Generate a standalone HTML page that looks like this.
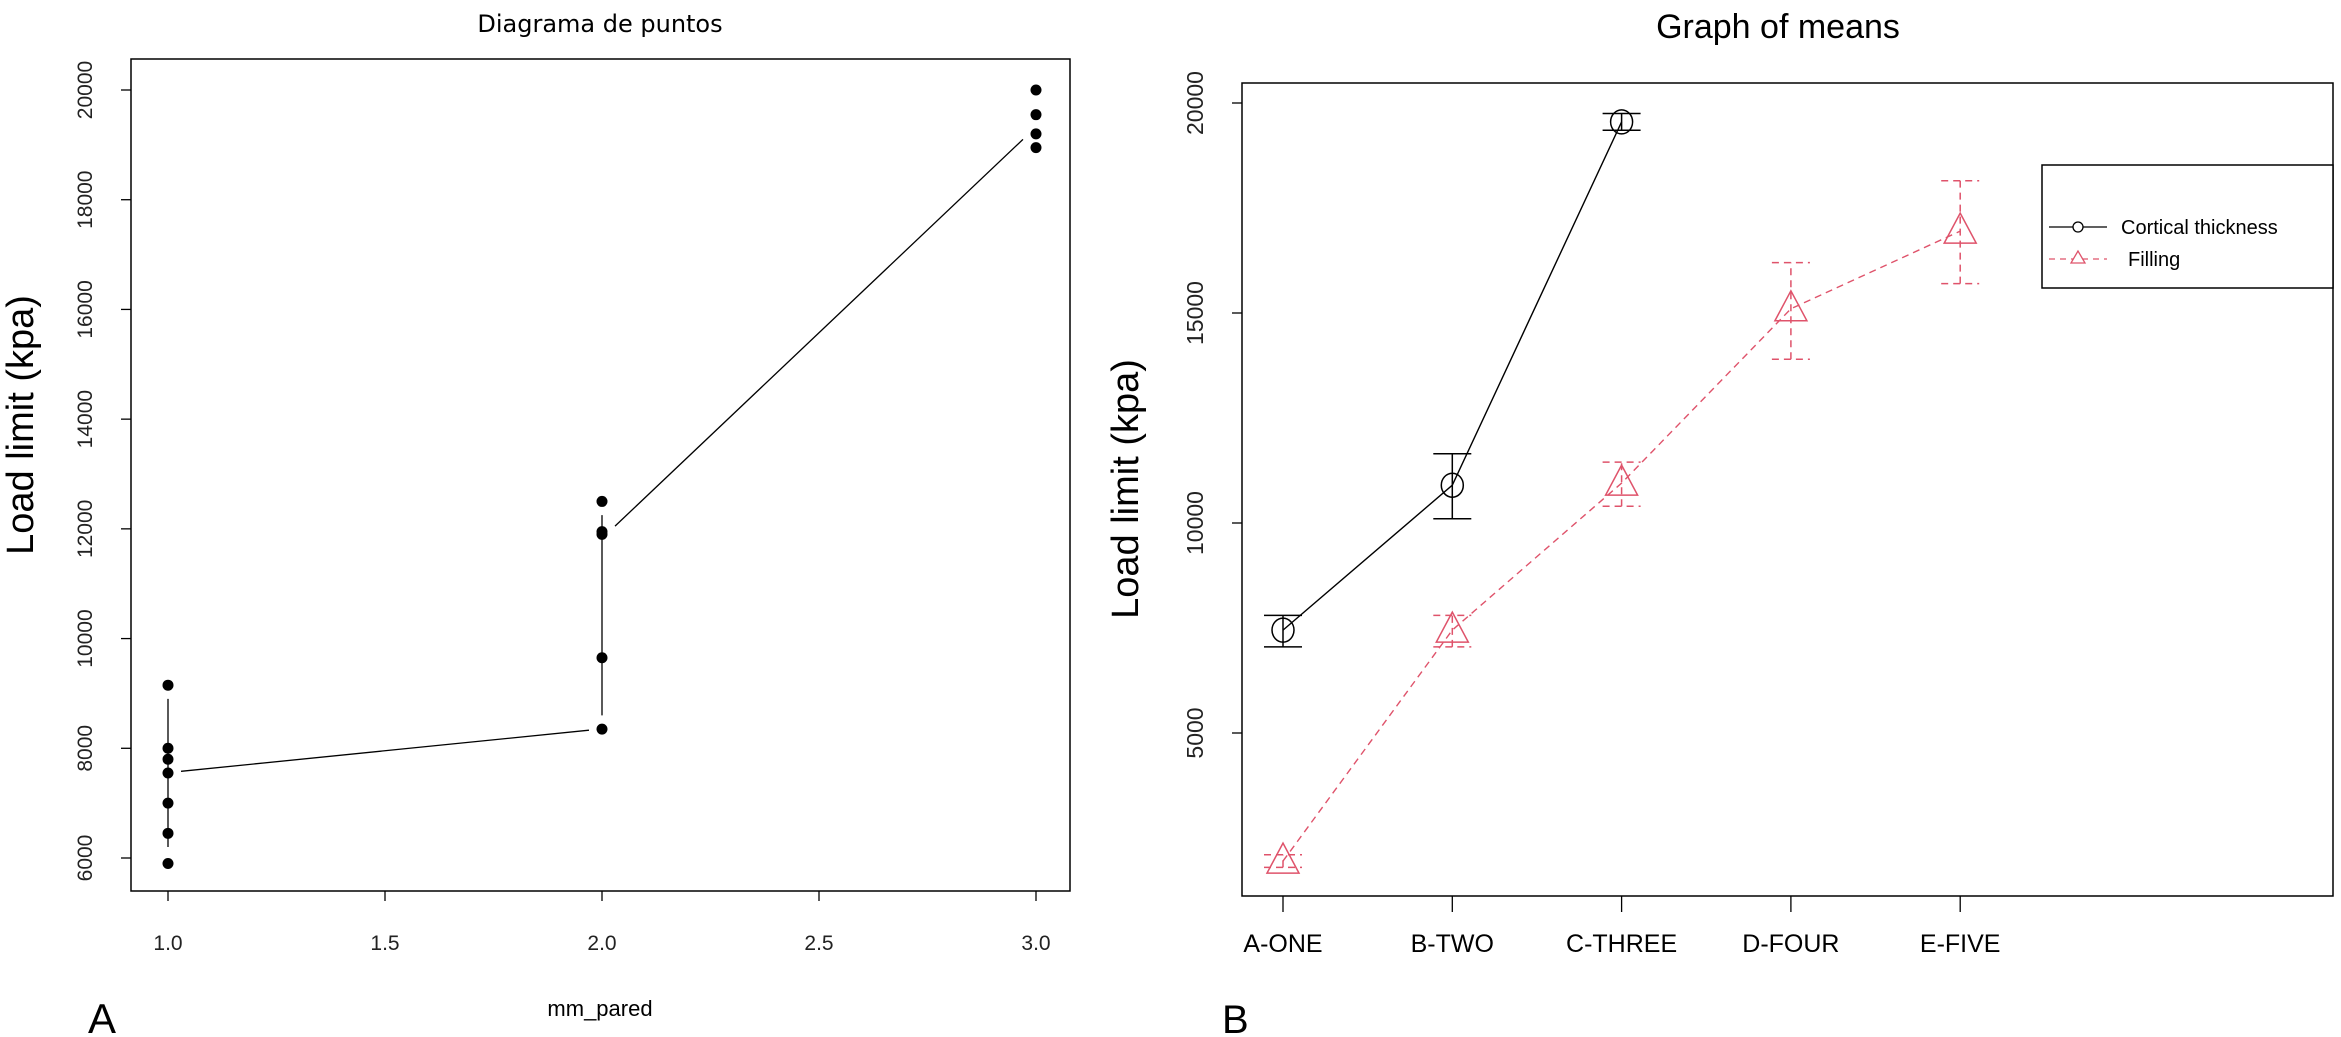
<!DOCTYPE html>
<html><head><meta charset="utf-8"><style>
html,body{margin:0;padding:0;background:#fff;}
svg{display:block;font-family:"Liberation Sans",sans-serif;}
</style></head><body>
<svg id="svg" width="2341" height="1037" viewBox="0 0 2341 1037" xmlns="http://www.w3.org/2000/svg">
<g id="pa">
<text x="600" y="32" font-size="24" text-anchor="middle" font-family="DejaVu Sans, sans-serif">Diagrama de puntos</text>
<rect x="131" y="59" width="939" height="832" fill="none" stroke="#000" stroke-width="1.5"/>
<text transform="translate(33,425) rotate(-90)" font-size="38" text-anchor="middle">Load limit (kpa)</text>
<text x="600" y="1016" font-size="22" text-anchor="middle">mm_pared</text>
<text x="88" y="1033" font-size="42">A</text>
</g>
<g id="pb">
<text x="1778" y="38" font-size="34" text-anchor="middle">Graph of means</text>
<rect x="1242" y="83" width="1091" height="813" fill="none" stroke="#000" stroke-width="1.5"/>
<text transform="translate(1138,489) rotate(-90)" font-size="38" text-anchor="middle">Load limit (kpa)</text>
<text x="1222" y="1033" font-size="40">B</text>
<g>
<rect x="2042" y="165" width="291" height="123" fill="#fff" stroke="#000" stroke-width="1.5"/>
<line x1="2049" y1="227" x2="2107" y2="227" stroke="#000" stroke-width="1.3"/>
<circle cx="2078" cy="227" r="5" fill="#fff" stroke="#000" stroke-width="1.3"/>
<text x="2121" y="234" font-size="20">Cortical thickness</text>
<line x1="2049" y1="259" x2="2107" y2="259" stroke="#df536b" stroke-width="1.3" stroke-dasharray="6,5"/>
<polygon points="2078,251 2071,263 2085,263" fill="#fff" stroke="#df536b" stroke-width="1.3"/>
<text x="2128" y="266" font-size="20">Filling</text>
</g>
</g>
</svg>
<script>
// Panel A data
const aX = [1,1,1,1,1,1,1, 2,2,2,2,2, 3,3,3,3];
const aY = [9150,8000,7800,7550,7000,6450,5900, 12500,11950,11900,9650,8350, 20000,19550,19200,18950];
const aYTicks = [6000,8000,10000,12000,14000,16000,18000,20000];
const aXTicks = [1.0,1.5,2.0,2.5,3.0];
const aXTickLabels = ["1.0","1.5","2.0","2.5","3.0"];
// connecting segments [x1,y1,x2,y2]
const aSegX1 = [1, 2, 1.03, 2.03];
const aSegY1 = [6200, 8600, 7580, 12050];
const aSegX2 = [1, 2, 1.97, 2.97];
const aSegY2 = [8900, 12250, 8330, 19100];
// Panel B data
const bCats = ["A-ONE","B-TWO","C-THREE","D-FOUR","E-FIVE"];
const bCortMean = [7450, 10900, 19550];
const bCortLo = [7050, 10100, 19350];
const bCortHi = [7800, 11650, 19750];
const bFillMean = [1950, 7450, 10950, 15100, 16950];
const bFillLo = [1800, 7050, 10400, 13900, 15700];
const bFillHi = [2100, 7800, 11450, 16200, 18150];
const bYTicks = [5000,10000,15000,20000];

const NS="http://www.w3.org/2000/svg";
function mk(parent,tag,attrs){const e=document.createElementNS(NS,tag);for(const k in attrs)e.setAttribute(k,attrs[k]);parent.appendChild(e);return e;}
const pa=document.getElementById('pa'), pb=document.getElementById('pb');
const axA=v=>168+(v-1)*434;
const ayA=v=>858-(v-6000)*(858-90)/14000;
aYTicks.forEach(t=>{
  const y=ayA(t);
  const l=mk(pa,'line',{x1:121,y1:y,x2:131,y2:y,stroke:'#000','stroke-width':1.3});
  
  
  const tx=mk(pa,'text',{transform:`translate(92,${y}) rotate(-90)`,'font-size':21,'text-anchor':'middle',fill:'#222'});
  tx.textContent=t;
  
  
});
aXTicks.forEach((t,i)=>{
  const x=axA(t);
  const l=mk(pa,'line',{x1:x,y1:891,x2:x,y2:901,stroke:'#000','stroke-width':1.3});
  
  
  const tx=mk(pa,'text',{x:x,y:950,'font-size':21,'text-anchor':'middle',fill:'#222'});
  tx.textContent=aXTickLabels[i];
  
  
});
aSegX1.forEach((_,i)=>{
  const l=mk(pa,'line',{x1:axA(aSegX1[i]),y1:ayA(aSegY1[i]),x2:axA(aSegX2[i]),y2:ayA(aSegY2[i]),stroke:'#000','stroke-width':1.3});
  
  
});
aX.forEach((x,i)=>{
  const c=mk(pa,'circle',{cx:axA(x),cy:ayA(aY[i]),r:5.5,fill:'#000'});
  
  
});

const axB=i=>1283+i*169.3;
const ayB=v=>733-(v-5000)*(733-103)/15000;
bYTicks.forEach(t=>{
  const y=ayB(t);
  const l=mk(pb,'line',{x1:1232,y1:y,x2:1242,y2:y,stroke:'#000','stroke-width':1.3});
  
  
  const tx=mk(pb,'text',{transform:`translate(1203,${y}) rotate(-90)`,'font-size':23,'text-anchor':'middle',fill:'#222'});
  tx.textContent=t;
  
  
});
bCats.forEach((c,i)=>{
  const x=axB(i);
  const l=mk(pb,'line',{x1:x,y1:896,x2:x,y2:912,stroke:'#000','stroke-width':1.3});
  
  
  const tx=mk(pb,'text',{x:x,y:952,'font-size':25,'text-anchor':'middle'});
  tx.textContent=c;
  
  
});
function series(mean,lo,hi,color,dash,shape,name){
  const pts=mean.map((v,i)=>axB(i)+','+ayB(v)).join(' ');
  const pl=mk(pb,'polyline',{points:pts,fill:'none',stroke:color,'stroke-width':1.4,'stroke-dasharray':dash});
  
  
  mean.forEach((v,i)=>{
    const x=axB(i),y1=ayB(lo[i]),y2=ayB(hi[i]);
    const g=mk(pb,'path',{d:`M${x},${y1}V${y2}M${x-19},${y1}H${x+19}M${x-19},${y2}H${x+19}`,fill:'none',stroke:color,'stroke-width':1.5,'stroke-dasharray':dash});
    
    
    const y=ayB(v);
    let m;
    if(shape==='c'){m=mk(pb,'ellipse',{cx:x,cy:y,rx:11,ry:12,fill:'none',stroke:color,'stroke-width':1.5});}
    else{m=mk(pb,'polygon',{points:`${x},${y-18} ${x-16},${y+12} ${x+16},${y+12}`,fill:'none',stroke:color,'stroke-width':1.5});}
    
    
  });
}
series(bCortMean,bCortLo,bCortHi,'#000','none','c','cortical');
series(bFillMean,bFillLo,bFillHi,'#df536b','7,5','t','filling');
</script>
</body></html>
